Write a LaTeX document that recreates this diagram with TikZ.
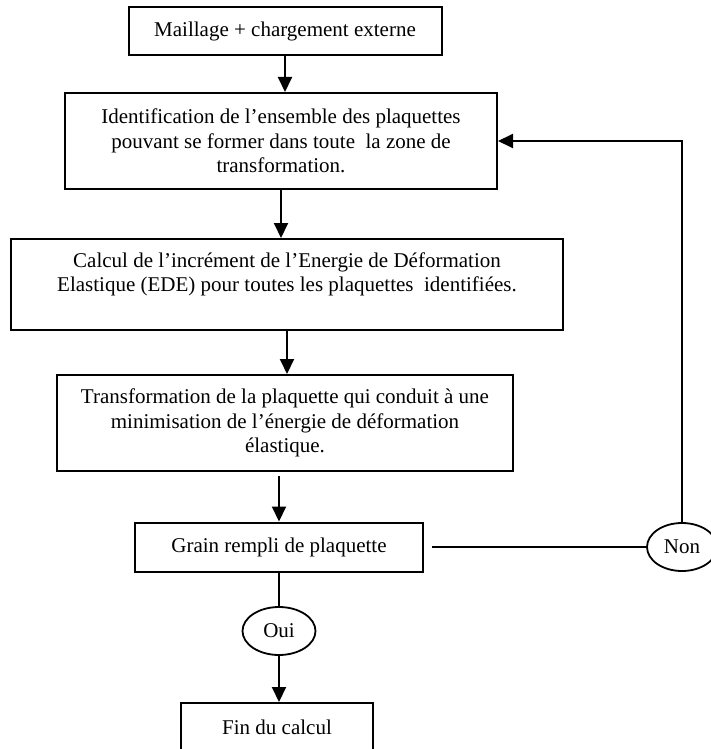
\documentclass[tikz,border=0pt]{standalone}
\usepackage{fontspec}
\setmainfont{Liberation Serif}
\usetikzlibrary{arrows.meta, shapes.geometric}

\begin{document}
\begin{tikzpicture}[x=1pt, y=-1pt, >={Triangle[width=14pt, length=15pt]},
    etape/.style={draw, line width=2pt, align=center, inner sep=0pt,
        font=\fontsize{21}{24.5}\selectfont},
    choix/.style={draw, ellipse, line width=1.8pt, inner sep=0pt,
        font=\fontsize{21}{24.5}\selectfont},
    lien/.style={line width=2pt}]

    \useasboundingbox (0,0) rectangle (710,749);

    % Etapes du calcul
    \node[etape, minimum width=313, minimum height=48] (maillage) at (285,31)
        {Maillage + chargement externe};
    \node[etape, minimum width=432, minimum height=96] (ident) at (281,141)
        {Identification de l'ensemble des plaquettes\\
         pouvant se former dans toute\ \ la zone de\\ transformation.};
    \node[etape, minimum width=552, minimum height=91] (calcul) at (287,284.5)
        {Calcul de l'incrément de l'Energie de Déformation\\
         Elastique (EDE) pour toutes les plaquettes\ \ identifiées.\\ \mbox{}};
    \node[etape, minimum width=456, minimum height=96] (transfo) at (285,423)
        {Transformation de la plaquette qui conduit à une\\
         minimisation de l'énergie de déformation\\ élastique.};
    \node[etape, minimum width=288, minimum height=49] (grain) at (279,547)
        {Grain rempli de plaquette};
    \node[etape, minimum width=192, minimum height=48] (fin) at (277,727)
        {Fin du calcul};

    % Tests
    \node[choix, minimum width=73, minimum height=48] (oui) at (279,631) {Oui};
    \node[choix, minimum width=70, minimum height=48] (non) at (682,547) {Non};

    % Fleches entre les etapes
    \foreach \a/\b in {maillage/ident, ident/calcul, calcul/transfo} {
        \draw[lien, ->] (\a.south) -- (\a.south |- \b.north);
    }
    \draw[lien, ->, shorten <=4pt] (transfo.south -| grain.north) -- (grain.north);
    \draw[lien] (grain.south) -- (oui.north);
    \draw[lien, ->] (oui.south) -- (oui.south |- fin.north);

    % Boucle de retour
    \draw[lien, shorten <=8pt] (grain.east) -- (non.west);
    \draw[lien, ->] (non.north) |- (ident.east);

\end{tikzpicture}
\end{document}
